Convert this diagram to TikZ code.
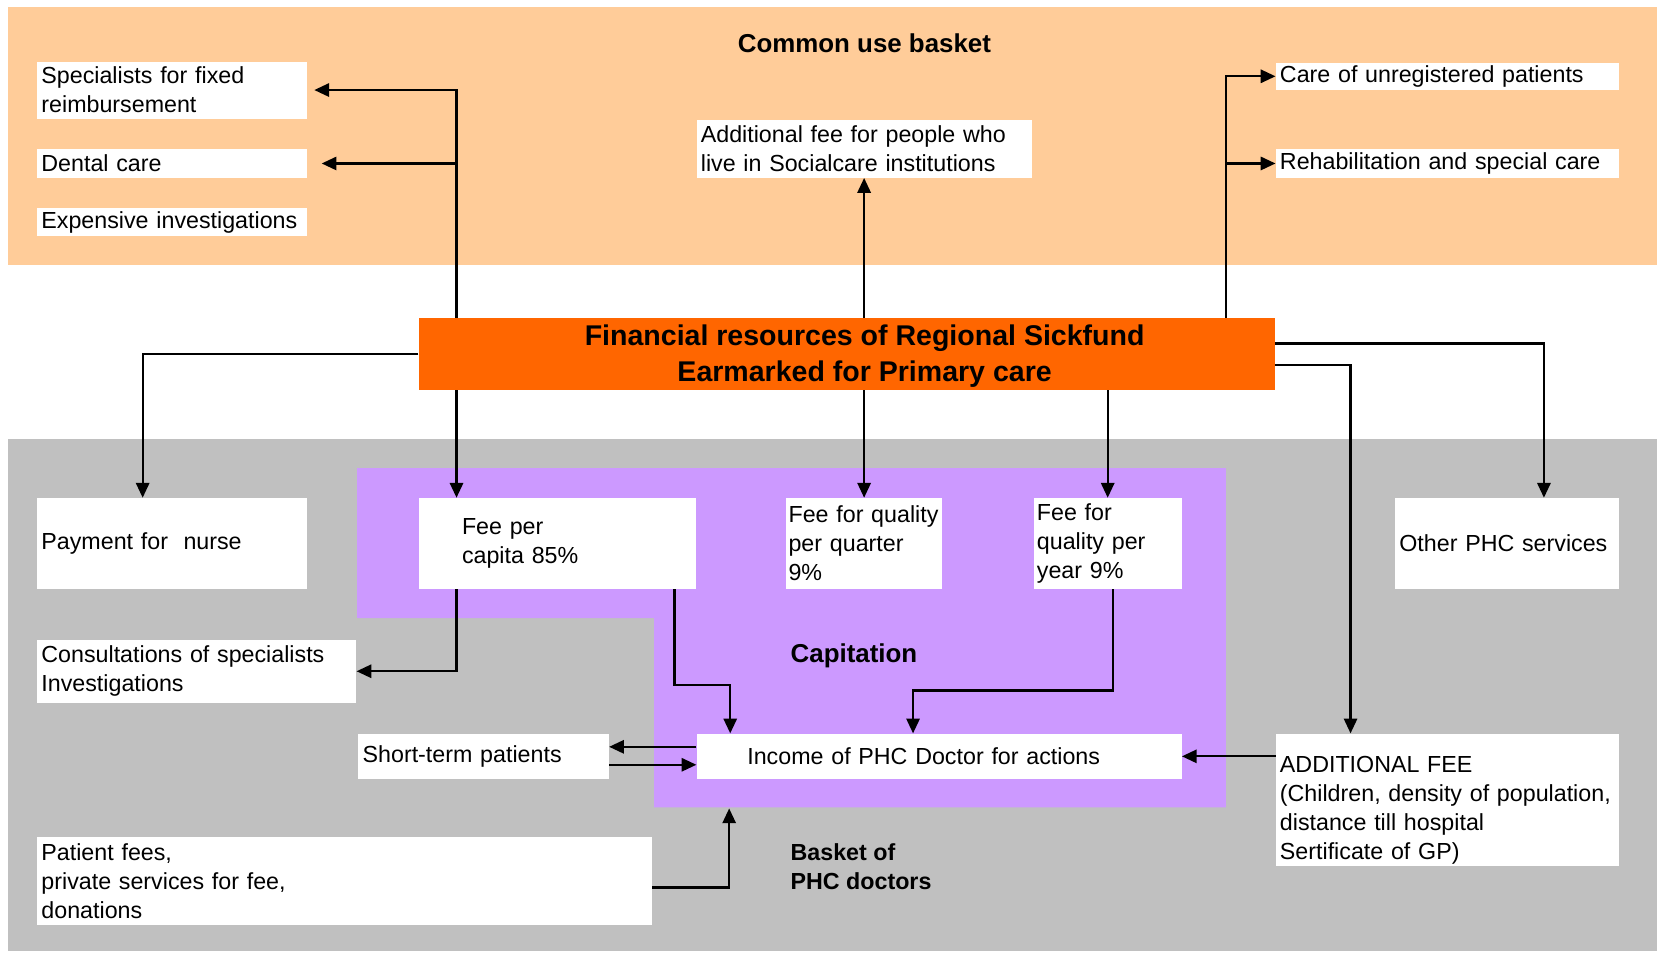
\documentclass[tikz,border=0pt]{standalone}
\usepackage{fontspec}
\setmainfont{Liberation Sans}
\usetikzlibrary{arrows.meta}
\definecolor{peach}{HTML}{FFCC99}
\definecolor{lilac}{HTML}{CC99FF}
\definecolor{sickfund}{HTML}{FF6600}
\definecolor{basketgray}{HTML}{C0C0C0}
\newcommand\txtfont{\fontsize{22}{27.5}\selectfont}

\begin{document}
\begin{tikzpicture}[x=1pt,y=-1pt,
  box/.style={fill=white, anchor=north west, align=left, inner xsep=4pt, inner ysep=0pt, font=\txtfont},
  arr/.style={-{Triangle[length=14pt,width=12.5pt]}, line width=2.2pt}]
\useasboundingbox (0,0) rectangle (1568,901);

\fill[peach] (8,7) rectangle (1568,251);
\fill[basketgray] (8,415) rectangle (1568,900);
\fill[lilac] (338,443) -- (1160,443) -- (1160,764) -- (619,764) -- (619,585) -- (338,585) -- cycle;

\node[font=\fontsize{24.5}{30}\selectfont\bfseries] (common) at (818,41) {Common use basket};
\node[box, text width=247pt, minimum height=54pt] (spec) at (35,58) {Specialists for fixed\\reimbursement};
\node[box, text width=247pt, minimum height=27pt] (dent) at (35,141) {Dental care};
\node[box, text width=247pt, minimum height=26pt] (expi) at (35,197) {Expensive investigations};
\node[box, text width=309pt, minimum height=55pt] (addf) at (659,113) {Additional fee for people who\\live in Socialcare institutions};
\node[box, text width=317pt, minimum height=26pt] (unreg) at (1207,59) {Care of unregistered patients};
\node[box, text width=317pt, minimum height=27pt] (rehab) at (1207,141) {Rehabilitation and special care};

\node[fill=sickfund, anchor=north west, minimum width=810pt, minimum height=68pt, inner sep=0pt,
  label={[xshift=17pt, yshift=-2pt, align=center, font=\fontsize{27}{34}\selectfont\bfseries]center:Financial resources of Regional Sickfund\\Earmarked for Primary care}] (fin) at (396,301) {};

\node[box, text width=247pt, minimum height=86pt] (nurse) at (35,471) {Payment for\ \ nurse};
\node[box, inner xsep=41pt, text width=180pt, minimum height=86pt] (cap) at (396,471) {Fee per\\capita 85\%};
\node[box, inner xsep=2pt, text width=143pt, minimum height=86pt] (qq) at (744,471) {\mbox{Fee for quality}\\per quarter\\9\%};
\node[box, inner xsep=3pt, text width=134pt, minimum height=86pt] (qy) at (978,471) {Fee for\\quality per\\year 9\%};
\node[box, text width=204pt, minimum height=86pt] (oth) at (1320,471) {Other PHC services};
\node[box, text width=294pt, minimum height=60pt] (cons) at (35,605) {Consultations of specialists\\Investigations};
\node[anchor=west, inner sep=0pt, font=\fontsize{24.5}{30}\selectfont\bfseries] (capl) at (748,621) {Capitation};
\node[box, text width=229pt, minimum height=43pt] (stp) at (339,694) {Short-term patients};
\node[box, inner xsep=48pt, text width=363pt, minimum height=43pt] (inc) at (659,694) {Income of PHC Doctor for actions};
\node[box, text width=317pt, minimum height=125pt] (addfee) at (1207,694) {\rule{0pt}{36pt}ADDITIONAL FEE\\(Children, density of population,\\distance till hospital\\Sertificate of GP)};
\node[box, text width=574pt, minimum height=83pt] (pat) at (35,792) {Patient fees,\\private services for fee,\\donations};
\node[anchor=west, inner sep=0pt, align=left, font=\fontsize{22}{27.5}\selectfont\bfseries] (bask) at (748,820) {Basket of\\PHC doctors};

\coordinate (lft) at ([xshift=36pt]fin.north west);
\coordinate (rgt) at ([xshift=-46pt]fin.north east);
\coordinate (capbot) at (690,765);

\draw[arr, shorten >=7pt] (lft) |- (spec.east);
\draw[arr, shorten >=14pt] (lft |- dent.east) -- (dent.east);
\draw[arr] (fin.north -| addf.south) -- (addf.south);
\draw[arr] (rgt) |- (unreg.west);
\draw[arr] (rgt |- rehab.west) -- (rehab.west);
\draw[arr] (fin.west) -| ([xshift=100pt]nurse.north west);
\draw[arr] (fin.south -| lft) -- (cap.north -| lft);
\draw[arr] (fin.south -| qq.north) -- (qq.north);
\draw[arr] (fin.south -| qy.north) -- (qy.north);
\draw[arr] ([yshift=10pt]fin.east) -| ([xshift=141pt]oth.north west);
\draw[arr] ([yshift=-10pt]fin.east) -| ([xshift=71pt]addfee.north west);
\draw[arr] (cap.south -| lft) |- (cons.east);
\draw[arr] ([xshift=-20pt]cap.south east) -- ++(0,91) -| ([xshift=32pt]inc.north west);
\draw[arr] ([xshift=5pt]qy.south) -- ++(0,96) -| ([xshift=205pt]inc.north west);
\draw[arr] ([yshift=9pt]inc.west) -- ([yshift=9pt]stp.east);
\draw[arr] ([yshift=-8pt]stp.east) -- ([yshift=-8pt]inc.west);
\draw[arr] (inc.east -| addfee.west) -- (inc.east);
\draw[arr] ([yshift=-6pt]pat.east) -| (capbot);
\end{tikzpicture}
\end{document}
